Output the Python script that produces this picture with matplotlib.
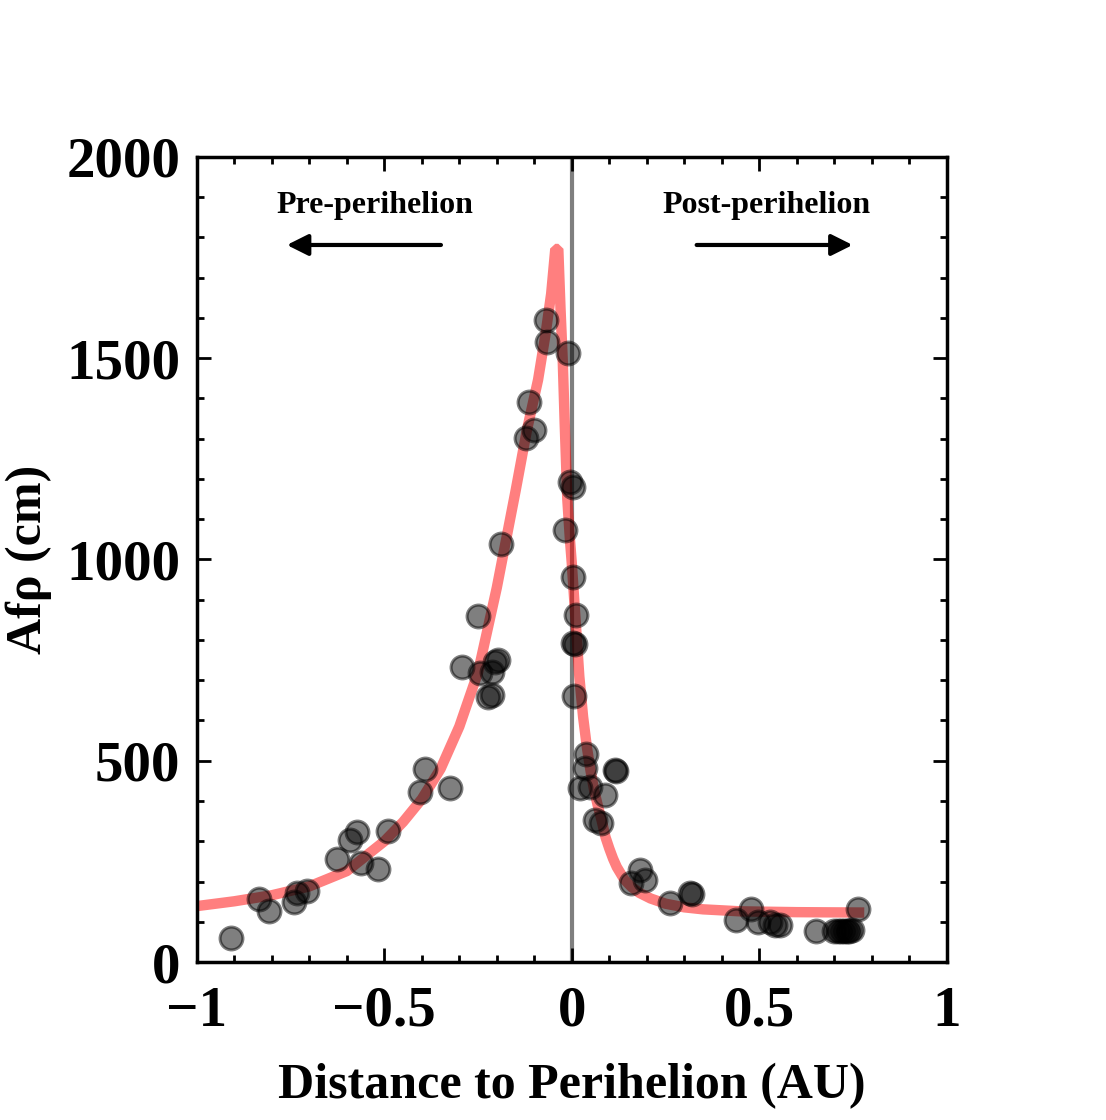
import matplotlib
matplotlib.use("Agg")
import matplotlib.pyplot as plt
from matplotlib.ticker import MultipleLocator

plt.rcParams['font.family'] = ['Liberation Serif', 'DejaVu Serif']
plt.rcParams['font.weight'] = 'bold'
plt.rcParams['axes.unicode_minus'] = True

# observed points, pre-perihelion
x_pre = [-0.909, -0.835, -0.807, -0.741, -0.733, -0.706, -0.627, -0.592, -0.574,
         -0.563, -0.518, -0.491, -0.405, -0.392, -0.325, -0.294, -0.250, -0.245,
         -0.223, -0.214, -0.214, -0.205, -0.196, -0.190, -0.123, -0.114, -0.101,
         -0.069, -0.065]
y_pre = [61, 157, 127, 148, 171, 177, 256, 303, 324,
         245, 231, 326, 423, 480, 432, 734, 860, 717,
         659, 663, 721, 746, 750, 1038, 1301, 1392, 1322,
         1595, 1539]

# observed points, post-perihelion
x_post = [-0.010, -0.005, 0.004, -0.019, 0.002, 0.012, 0.004, 0.008, 0.007,
          0.039, 0.035, 0.119, 0.114, 0.022, 0.048, 0.088, 0.061, 0.079,
          0.181, 0.195, 0.159, 0.261, 0.315, 0.320, 0.439, 0.477, 0.497,
          0.528, 0.541, 0.555, 0.652, 0.700, 0.710, 0.718, 0.725, 0.733,
          0.740, 0.748, 0.764]
y_post = [1512, 1193, 1181, 1072, 956, 862, 792, 790, 661,
          518, 481, 475, 478, 432, 435, 415, 353, 345,
          229, 204, 196, 146, 171, 168, 104, 133, 100,
          100, 92, 92, 78, 76, 78, 76, 78, 76,
          78, 80, 133]

# fitted model curve
fit_x = [-1.0, -0.9, -0.8, -0.7, -0.6, -0.5, -0.45, -0.4, -0.35, -0.3,
         -0.25, -0.2, -0.15, -0.12, -0.09, -0.07, -0.055, -0.044,
         -0.036, -0.030, -0.024, -0.019, -0.012, -0.005, 0.0, 0.01, 0.02,
         0.03, 0.04, 0.05, 0.06, 0.07, 0.08, 0.09, 0.10, 0.11, 0.12, 0.14,
         0.16, 0.18, 0.21, 0.25, 0.30, 0.35, 0.45, 0.60, 0.78]
fit_y = [139, 151, 166, 188, 226, 300, 348, 405, 480, 585,
         720, 930, 1170, 1320, 1446, 1560, 1660, 1771,
         1771, 1620, 1490, 1340, 1150, 1050, 990, 850, 710,
         610, 535, 475, 425, 386, 350, 310, 282, 257, 236, 205,
         186, 172, 158, 145, 136, 131, 126, 124, 123]

fig = plt.figure(figsize=(11.06, 11.2), dpi=100)
ax = fig.add_axes([0.178, 0.141, 0.678, 0.719])

ax.axvline(0, color='k', alpha=0.5, linewidth=3, zorder=1)
ax.plot(fit_x, fit_y, color='red', alpha=0.5, linewidth=7.5,
        solid_joinstyle='bevel', solid_capstyle='butt', zorder=2)
ax.scatter(x_pre + x_post, y_pre + y_post, s=270, c='k', alpha=0.5,
           edgecolors='k', linewidths=2.2, zorder=3)

ax.set_xlim(-1, 1)
ax.set_ylim(0, 2000)
ax.xaxis.set_major_locator(MultipleLocator(0.5))
ax.xaxis.set_minor_locator(MultipleLocator(0.1))
ax.yaxis.set_major_locator(MultipleLocator(500))
ax.yaxis.set_minor_locator(MultipleLocator(100))
ax.set_xticks([-1, -0.5, 0, 0.5, 1])
ax.set_xticklabels(['\u22121', '\u22120.5', '0', '0.5', '1'])

ax.tick_params(which='both', direction='in', top=True, right=True,
               width=2, labelsize=41)
ax.tick_params(which='major', length=10)
ax.tick_params(which='minor', length=5)
ax.tick_params(axis='x', pad=17)
ax.tick_params(axis='y', pad=12)
for sp in ax.spines.values():
    sp.set_linewidth(2.5)

ax.set_xlabel('Distance to Perihelion (AU)', fontsize=36, fontweight='bold', labelpad=18)
ax.set_ylabel('Af\u03c1 (cm)', fontsize=36, fontweight='bold', labelpad=10)

# direction labels
ax.text(-0.525, 1880, 'Pre-perihelion', ha='center', va='center',
        fontsize=23, fontweight='bold')
ax.text(0.52, 1880, 'Post-perihelion', ha='center', va='center',
        fontsize=23, fontweight='bold')
ax.annotate('', xy=(-0.76, 1781), xytext=(-0.349, 1781),
            arrowprops=dict(arrowstyle='-|>', color='k', lw=3,
                            mutation_scale=32, shrinkA=0, shrinkB=0))
ax.annotate('', xy=(0.749, 1781), xytext=(0.333, 1781),
            arrowprops=dict(arrowstyle='-|>', color='k', lw=3,
                            mutation_scale=32, shrinkA=0, shrinkB=0))

plt.savefig('out.png', dpi=100)
